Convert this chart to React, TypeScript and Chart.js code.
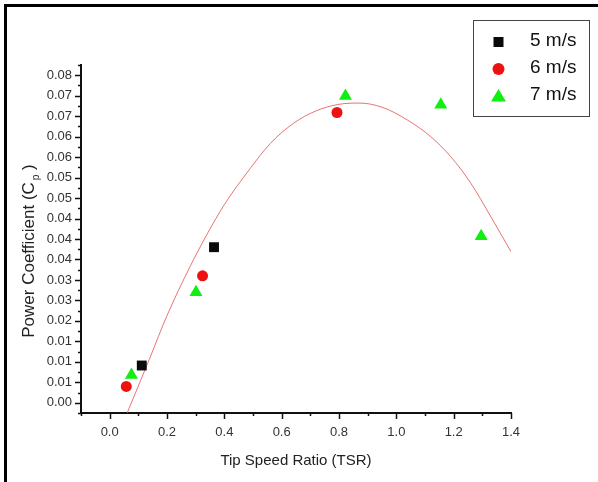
import React, { useEffect, useRef } from 'react';
import { Chart, registerables } from 'chart.js';

Chart.register(...registerables);

// ---- data ----
const seriesLabels = ['5 m/s', '6 m/s', '7 m/s'];
const tsr5 = [0.112, 0.364];
const cp5 = [0.0091, 0.038];
const tsr6 = [0.058, 0.324, 0.793];
const cp6 = [0.004, 0.031, 0.0709];
const tsr7 = [0.076, 0.301, 0.8225, 1.155, 1.296];
const cp7 = [0.0068, 0.027, 0.0749, 0.0728, 0.0407];

// fitted curve, read as points along the drawn line
const fitTsr = [0.061, 0.10, 0.14, 0.20, 0.28, 0.34, 0.40, 0.49, 0.56, 0.64, 0.72, 0.80, 0.87, 0.95, 1.04, 1.12, 1.19, 1.26, 1.33, 1.40];
const fitCp = [-0.0025, 0.0041, 0.0109, 0.0213, 0.0332, 0.0412, 0.0484, 0.0572, 0.0633, 0.0682, 0.0713, 0.0729, 0.0732, 0.0722, 0.069, 0.065, 0.0601, 0.0536, 0.0454, 0.0369];

const xTickValues = [0, 0.2, 0.4, 0.6, 0.8, 1.0, 1.2, 1.4];
const xTickLabels = ['0.0', '0.2', '0.4', '0.6', '0.8', '1.0', '1.2', '1.4'];
const yTickValues = [0, 0.005, 0.01, 0.015, 0.02, 0.025, 0.03, 0.035, 0.04, 0.045, 0.05, 0.055, 0.06, 0.065, 0.07, 0.075, 0.08];
const yTickLabels = ['0.00', '0.01', '0.01', '0.01', '0.02', '0.03', '0.03', '0.04', '0.04', '0.04', '0.05', '0.05', '0.06', '0.06', '0.07', '0.07', '0.08'];

const xTitle = 'Tip Speed Ratio (TSR)';
const yTitleMain = 'Power Coefficient (C';
const yTitleSub = 'p';
const yTitleTail = ' )';

const colors = ['#0a0a0a', '#ee1111', '#11ee11'];
const pointStyles = ['rect', 'circle', 'triangle'];
const FONT = '"Liberation Sans", Arial, Helvetica, sans-serif';

const toPts = (xs: number[], ys: number[]) => xs.map((x, i) => ({ x, y: ys[i] }));

function minorTicks(majors: number[], min: number, max: number) {
  const step = majors[1] - majors[0];
  const out: number[] = [];
  majors.forEach((m) => {
    [m - step / 2, m + step / 2].forEach((v) => {
      if (v >= min - 1e-9 && v <= max + 1e-9 && !out.some((o) => Math.abs(o - v) < 1e-9)) out.push(v);
    });
  });
  return out;
}

const decorPlugin = {
  id: 'decor',
  afterDraw(chart: any) {
    const ctx = chart.ctx as CanvasRenderingContext2D;
    const xs = chart.scales.x;
    const ys = chart.scales.y;
    const area = chart.chartArea;
    ctx.save();
    // tick marks
    ctx.strokeStyle = '#111';
    ctx.lineWidth = 1.5;
    const drawX = (v: number, len: number) => {
      const px = Math.round(xs.getPixelForValue(v)) + 0.5;
      ctx.beginPath();
      ctx.moveTo(px, area.bottom);
      ctx.lineTo(px, area.bottom + len);
      ctx.stroke();
    };
    const drawY = (v: number, len: number) => {
      const py = Math.round(ys.getPixelForValue(v)) + 0.5;
      ctx.beginPath();
      ctx.moveTo(area.left, py);
      ctx.lineTo(area.left - len, py);
      ctx.stroke();
    };
    xTickValues.forEach((v) => drawX(v, 6));
    minorTicks(xTickValues, xs.min, xs.max).forEach((v) => drawX(v, 3));
    yTickValues.forEach((v) => drawY(v, 6));
    minorTicks(yTickValues, ys.min, ys.max).forEach((v) => drawY(v, 3));

    // y axis title with subscript
    ctx.fillStyle = '#222';
    const mainFont = `17px ${FONT}`;
    const subFont = `10px ${FONT}`;
    ctx.font = mainFont;
    const w1 = ctx.measureText(yTitleMain).width;
    const w3 = ctx.measureText(yTitleTail).width;
    ctx.font = subFont;
    const w2 = ctx.measureText(yTitleSub).width;
    const total = w1 + w2 + w3 + 2;
    const cy = 251;
    ctx.translate(34, cy + total / 2);
    ctx.rotate(-Math.PI / 2);
    ctx.textAlign = 'left';
    ctx.textBaseline = 'alphabetic';
    ctx.font = mainFont;
    ctx.fillText(yTitleMain, 0, 0);
    ctx.font = subFont;
    ctx.fillText(yTitleSub, w1 + 2, 5);
    ctx.font = mainFont;
    ctx.fillText(yTitleTail, w1 + w2 + 2, 0);
    ctx.restore();

    // legend box
    ctx.save();
    const bx = 473.5, by = 20.5, bw = 116, bh = 96;
    ctx.fillStyle = '#ffffff';
    ctx.fillRect(bx, by, bw, bh);
    ctx.strokeStyle = '#444';
    ctx.lineWidth = 1;
    ctx.strokeRect(bx, by, bw, bh);
    const items = chart.data.datasets.filter((d: any) => d.isSeries);
    items.forEach((d: any, i: number) => {
      const cx = 498.5;
      const cyy = 42 + i * 27;
      ctx.fillStyle = d.backgroundColor;
      ctx.beginPath();
      if (d.pointStyle === 'rect') {
        ctx.rect(cx - 5, cyy - 5, 10, 10);
      } else if (d.pointStyle === 'circle') {
        ctx.arc(cx, cyy, 6, 0, Math.PI * 2);
      } else {
        ctx.moveTo(cx, cyy - 7);
        ctx.lineTo(cx + 7.5, cyy + 5.5);
        ctx.lineTo(cx - 7.5, cyy + 5.5);
        ctx.closePath();
      }
      ctx.fill();
      ctx.fillStyle = '#111';
      ctx.font = `19px ${FONT}`;
      ctx.textAlign = 'left';
      ctx.textBaseline = 'alphabetic';
      ctx.fillText(d.label, 530, cyy + 4);
    });
    ctx.restore();
  },
};

export default function App() {
  const ref = useRef<HTMLCanvasElement | null>(null);
  useEffect(() => {
    if (!ref.current) return;
    const series = [
      { xs: tsr5, ys: cp5 },
      { xs: tsr6, ys: cp6 },
      { xs: tsr7, ys: cp7 },
    ];
    const datasets: any[] = series.map((s, i) => ({
      label: seriesLabels[i],
      isSeries: true,
      data: toPts(s.xs, s.ys),
      pointStyle: pointStyles[i],
      pointRadius: i === 0 ? 7 : i === 1 ? 5.5 : 7.5,
      pointHoverRadius: i === 0 ? 7 : i === 1 ? 5.5 : 7.5,
      backgroundColor: colors[i],
      borderColor: colors[i],
      borderWidth: 0,
      showLine: false,
      order: 1,
    }));
    datasets.push({
      label: 'fit',
      data: toPts(fitTsr, fitCp),
      showLine: true,
      borderColor: 'rgba(228, 90, 90, 0.85)',
      borderWidth: 1,
      pointRadius: 0,
      cubicInterpolationMode: 'monotone',
      fill: false,
      order: 5,
    });

    const tickFont = { family: FONT, size: 13 };
    const chart = new Chart(ref.current, {
      type: 'scatter',
      data: { datasets },
      plugins: [decorPlugin],
      options: {
        animation: false,
        responsive: false,
        devicePixelRatio: 1,
        layout: { padding: { left: 0, right: 87, top: 65, bottom: 0 } },
        plugins: {
          legend: { display: false },
          tooltip: { enabled: false },
        },
        scales: {
          x: {
            type: 'linear',
            min: -0.1,
            max: 1.4,
            afterBuildTicks: (s: any) => {
              s.ticks = xTickValues.map((v) => ({ value: v }));
            },
            afterFit: (s: any) => {
              s.height = 69;
            },
            ticks: {
              font: tickFont,
              color: '#333',
              padding: 6,
              maxRotation: 0,
              autoSkip: false,
              callback: (v: any, i: number) => xTickLabels[i],
            },
            grid: { display: false, drawTicks: true, tickLength: 6 },
            border: { display: true, color: '#111', width: 2 },
            title: {
              display: true,
              text: xTitle,
              font: { family: FONT, size: 15 },
              color: '#222',
              padding: { top: 0, bottom: 12 },
            },
          },
          y: {
            type: 'linear',
            min: -0.0025,
            max: 0.0825,
            afterBuildTicks: (s: any) => {
              s.ticks = yTickValues.map((v) => ({ value: v }));
            },
            afterFit: (s: any) => {
              s.width = 81;
            },
            ticks: {
              font: tickFont,
              color: '#333',
              padding: 3,
              autoSkip: false,
              callback: (v: any, i: number) => yTickLabels[i],
            },
            grid: { display: false, drawTicks: true, tickLength: 6 },
            border: { display: true, color: '#111', width: 2 },
            title: { display: false },
          },
        },
      } as any,
    });
    return () => chart.destroy();
  }, []);

  return (
    <div style={{ position: 'absolute', left: 0, top: 0, width: 598, height: 482, overflow: 'hidden', background: '#fff' }}>
      <div
        style={{
          position: 'absolute',
          left: 4,
          top: 4,
          width: 700,
          height: 700,
          borderLeft: '3px solid #000',
          borderTop: '3px solid #000',
        }}
      />
      <canvas ref={ref} width={598} height={482} style={{ position: 'absolute', left: 0, top: 0, width: 598, height: 482 }} />
    </div>
  );
}
